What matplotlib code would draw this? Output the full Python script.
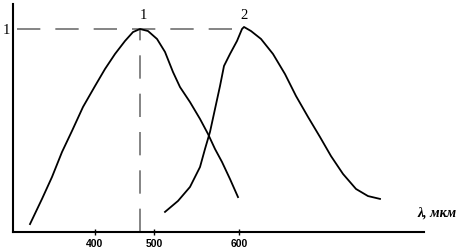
import matplotlib
matplotlib.use("Agg")
import matplotlib.pyplot as plt

# horizontal positions on the drawn axis (the scale is not uniform)
tick_pos = [95, 154, 239]
tick_labels = ["400", "500", "600"]

# curve 1 (peak marked "1")
x1 = [30, 42, 52, 62, 72, 83, 95, 105, 115, 125, 133, 140,
      148, 157, 165, 173, 180, 190, 200, 208, 215, 222, 230, 238]
y1 = [0.039, 0.163, 0.271, 0.394, 0.498, 0.616, 0.719, 0.803, 0.877, 0.941, 0.985, 1.0,
      0.990, 0.951, 0.887, 0.788, 0.714, 0.640, 0.557, 0.483, 0.409, 0.345, 0.261, 0.172]

# curve 2 (peak marked "2")
x2 = [165, 178, 190, 200, 205, 210, 215, 220, 224, 230, 237, 242, 244,
      251, 261, 273, 285, 296, 308, 320, 331, 343, 356, 368, 380]
y2 = [0.099, 0.153, 0.222, 0.320, 0.409, 0.493, 0.606, 0.719, 0.818, 0.877, 0.941, 1.0, 1.01,
      0.990, 0.951, 0.877, 0.778, 0.670, 0.567, 0.468, 0.374, 0.286, 0.212, 0.177, 0.163]

peak_x = 140

fig = plt.figure(figsize=(4.68, 2.53), dpi=100)
ax = fig.add_axes([13 / 468, 20 / 253, (424 - 13) / 468, (233 - 5) / 253])
ax.set_xlim(13, 424)
ax.set_ylim(0, 228 / 203)

for s in ("top", "right"):
    ax.spines[s].set_visible(False)
for s in ("left", "bottom"):
    ax.spines[s].set_linewidth(1.5)
    ax.spines[s].set_color("black")

ax.set_yticks([])
ax.set_xticks(tick_pos)
ax.set_xticklabels(tick_labels, fontfamily="Liberation Sans", fontweight="bold", fontsize=7.5)
ax.tick_params(axis="x", direction="inout", length=5, width=1, pad=1.5)

dash = dict(color="#707070", lw=1.2, dashes=(14, 9))
ax.plot([17, 242], [1, 1], **dash)
ax.plot([peak_x, peak_x], [0, 1], **dash)

ax.plot(x1, y1, color="black", lw=1.3, solid_joinstyle="round")
ax.plot(x2, y2, color="black", lw=1.3, solid_joinstyle="round")

serif = dict(fontfamily="Liberation Serif", fontsize=10.5, color="black")
ax.text(3, 1, "1", ha="left", va="center", clip_on=False, **serif)
ax.text(143, 1.04, "1", ha="center", va="bottom", **serif)
ax.text(244, 1.04, "2", ha="center", va="bottom", **serif)

ax.text(437, 0.098, "λ, мкм", ha="center", va="center", fontfamily="Liberation Serif",
        fontstyle="italic", fontweight="bold", fontsize=10, clip_on=False)

fig.savefig("out.png", dpi=100)
